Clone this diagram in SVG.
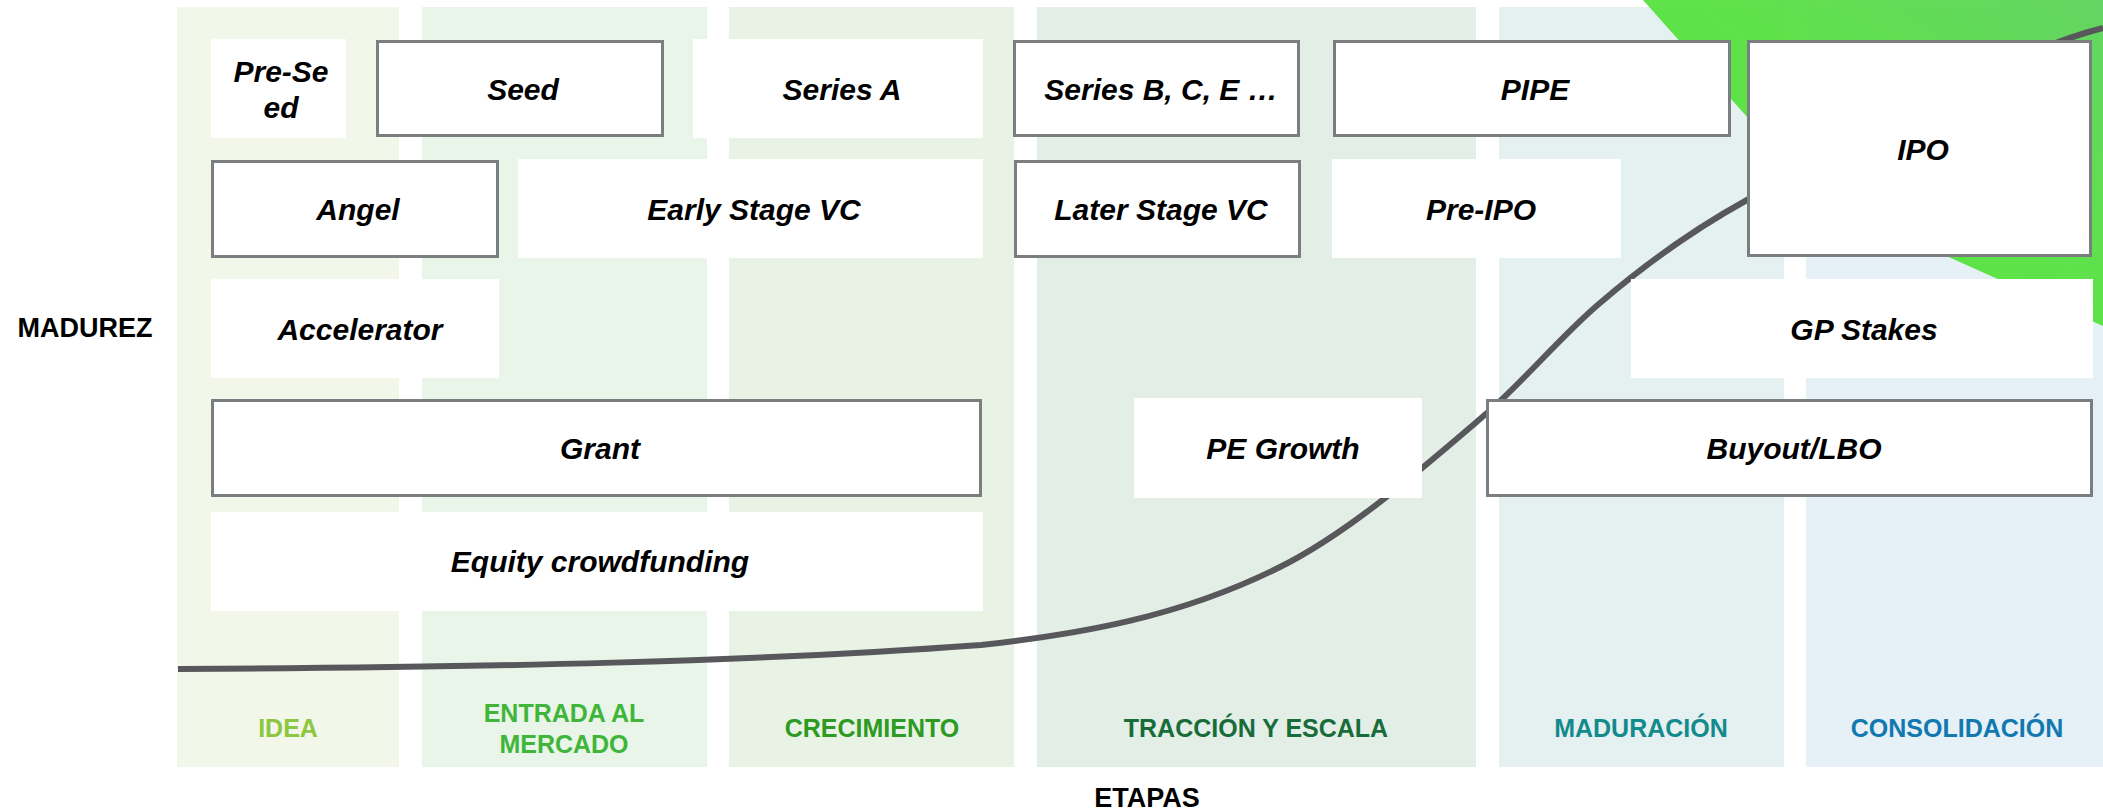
<svg xmlns="http://www.w3.org/2000/svg" width="2103" height="811" viewBox="0 0 2103 811">
<style>
.lbl{font-family:"Liberation Sans",Arial,sans-serif;font-weight:bold;font-style:italic;font-size:30px;fill:#000;text-anchor:middle}
.stage{font-family:"Liberation Sans",Arial,sans-serif;font-weight:bold;font-size:25px;text-anchor:middle}
.axis{font-family:"Liberation Sans",Arial,sans-serif;font-weight:bold;font-size:27px;fill:#000;text-anchor:middle}
.box{fill:#fff}
.bd{fill:#fff;stroke:#7b7e81;stroke-width:3}
.curve{fill:none;stroke:#58595b;stroke-width:6;filter:url(#soft)}
</style>
<defs>
<linearGradient id="gr" x1="0" y1="1" x2="1" y2="0">
<stop offset="0" stop-color="#4fe72e"/>
<stop offset="0.6" stop-color="#58e043"/>
<stop offset="1" stop-color="#5ed35c"/>
</linearGradient>
<filter id="soft" x="-5%" y="-5%" width="110%" height="110%"><feGaussianBlur stdDeviation="0.7"/></filter>
</defs>
<rect width="2103" height="811" fill="#fff"/>
<g id="columns">
<rect x="177" y="7" width="222" height="760" fill="#f2f7e9"/>
<rect x="422" y="7" width="285" height="760" fill="#e9f5e8"/>
<rect x="729" y="7" width="285" height="760" fill="#e8f3e6"/>
<rect x="1037" y="7" width="439" height="760" fill="#e3eee7"/>
<rect x="1499" y="7" width="285" height="760" fill="#e5f0f1"/>
<rect x="1806" y="7" width="297" height="760" fill="#e5f0f7"/>
</g>
<polygon id="accent" points="1643,0 1821,200 2103,326 2103,0" fill="url(#gr)" opacity="0.95"/>
<g id="connectors">
<path class="curve" d="M178,669 C500,667 750,662 981,645 C1081,634 1180,617 1280,567 C1349,532.5 1418,472 1487,413 C1525,380 1562,335 1600,303 C1649,261 1698,227 1747,200 C1850,143 2003,53 2103,28"/>
</g>
<g id="pre-seed"><rect class="box" x="211" y="39" width="135" height="99"/><text class="lbl" x="281" y="82">Pre-Se</text><text class="lbl" x="281" y="118">ed</text></g>
<g id="seed"><rect class="bd" x="377.5" y="41.5" width="285" height="94"/><text class="lbl" x="523" y="100">Seed</text></g>
<g id="series-a"><rect class="box" x="693" y="39" width="290" height="99"/><text class="lbl" x="842" y="100">Series A</text></g>
<g id="series-b"><rect class="bd" x="1014.5" y="41.5" width="284" height="94"/><text class="lbl" x="1161" y="100">Series B, C, E …</text></g>
<g id="pipe"><rect class="bd" x="1334.5" y="41.5" width="395" height="94"/><text class="lbl" x="1535" y="100">PIPE</text></g>
<g id="ipo"><rect class="bd" x="1748.5" y="41.5" width="342" height="214"/><text class="lbl" x="1923" y="160">IPO</text></g>
<g id="angel"><rect class="bd" x="212.5" y="161.5" width="285" height="95"/><text class="lbl" x="358" y="220">Angel</text></g>
<g id="early-vc"><rect class="box" x="518" y="159" width="465" height="99"/><text class="lbl" x="754" y="220">Early Stage VC</text></g>
<g id="later-vc"><rect class="bd" x="1015.5" y="161.5" width="284" height="95"/><text class="lbl" x="1161" y="220">Later Stage VC</text></g>
<g id="pre-ipo"><rect class="box" x="1332" y="159" width="289" height="99"/><text class="lbl" x="1481" y="220">Pre-IPO</text></g>
<g id="accelerator"><rect class="box" x="211" y="279" width="288" height="99"/><text class="lbl" x="360" y="340">Accelerator</text></g>
<g id="gp-stakes"><rect class="box" x="1631" y="279" width="462" height="99"/><text class="lbl" x="1864" y="340">GP Stakes</text></g>
<g id="grant"><rect class="bd" x="212.5" y="400.5" width="768" height="95"/><text class="lbl" x="600" y="459">Grant</text></g>
<g id="pe-growth"><rect class="box" x="1134" y="398" width="288" height="100"/><text class="lbl" x="1283" y="459">PE Growth</text></g>
<g id="buyout"><rect class="bd" x="1487.5" y="400.5" width="604" height="95"/><text class="lbl" x="1794" y="459">Buyout/LBO</text></g>
<g id="equity"><rect class="box" x="211" y="512" width="772" height="99"/><text class="lbl" x="600" y="572">Equity crowdfunding</text></g>
<g id="stages">
<text class="stage" x="288" y="737" fill="#8dc641">IDEA</text>
<text class="stage" x="564" y="722" fill="#3fb53a">ENTRADA AL</text>
<text class="stage" x="564" y="753" fill="#3fb53a">MERCADO</text>
<text class="stage" x="872" y="737" fill="#2d9a22">CRECIMIENTO</text>
<text class="stage" x="1256" y="737" fill="#176c3a">TRACCIÓN Y ESCALA</text>
<text class="stage" x="1641" y="737" fill="#138a8c">MADURACIÓN</text>
<text class="stage" x="1957" y="737" fill="#1278b0">CONSOLIDACIÓN</text>
</g>
<text class="axis" x="85" y="337">MADUREZ</text>
<text class="axis" x="1147" y="807">ETAPAS</text>
</svg>
